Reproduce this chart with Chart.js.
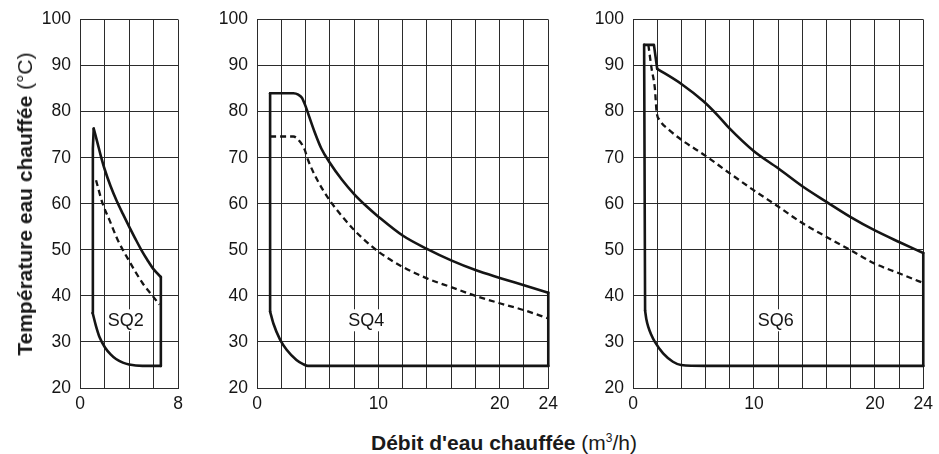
<!DOCTYPE html>
<html lang="fr">
<head>
<meta charset="utf-8">
<script src="https://cdn.jsdelivr.net/npm/chart.js@4/dist/chart.umd.min.js"></script>
<style>
  html, body { margin: 0; padding: 0; background: #fff; }
  body { width: 939px; height: 454px; position: relative; overflow: hidden;
         font-family: 'Liberation Sans', Arial, Helvetica, sans-serif; color: #1a1a1a; }
  .panel { position: absolute; top: 0; }
  #ytitle { position: absolute; left: 25px; top: 204px; transform: translate(-50%, -50%) rotate(-90deg);
            white-space: nowrap; font-size: 21px; line-height: 24px; }
  #xtitle { position: absolute; left: 504px; top: 431px; transform: translateX(-50%);
            white-space: nowrap; font-size: 21px; line-height: 24px; }
  #xtitle sup { font-size: 12px; vertical-align: 8px; line-height: 0; }
</style>
</head>
<body>
<div class="panel" style="left:0px"><canvas id="c1" width="190" height="420"></canvas></div>
<div class="panel" style="left:197px"><canvas id="c2" width="367" height="420"></canvas></div>
<div class="panel" style="left:573px"><canvas id="c3" width="366" height="420"></canvas></div>
<div id="ytitle"><b>Température eau chauffée</b> (°C)</div>
<div id="xtitle"><b>Débit d'eau chauffée</b> (m<sup>3</sup>/h)</div>
<script>
// ---- data (x = débit m³/h, y = température °C) ----
const yTicks = [20, 30, 40, 50, 60, 70, 80, 90, 100];
const xLabelsSQ2 = [0, 8];
const xLabelsSQ4 = [0, 10, 20, 24];
const xLabelsSQ6 = [0, 10, 20, 24];
const modelNames = ['SQ2', 'SQ4', 'SQ6'];
const labelAt = [[3.73, 34.7], [9.0, 34.7], [11.8, 34.7]];

const sq2Left   = [[1.03, 36.3], [1.05, 72], [1.12, 76.3]];
const sq2Top    = [[1.12, 76.3], [1.4, 73.5], [1.71, 70.3], [2.0, 67.6], [2.5, 63.8], [3.0, 60.6], [3.5, 57.8], [4.0, 55.1], [4.5, 52.5], [5.0, 50.0], [5.5, 47.8], [6.0, 45.8], [6.6, 44.1]];
const sq2Right  = [[6.6, 44.1], [6.6, 24.8]];
const sq2Bottom = [[1.03, 36.3], [1.3, 33.5], [1.6, 31.0], [2.04, 28.8], [2.5, 27.3], [2.94, 26.3], [3.5, 25.5], [4.0, 25.1], [5.1, 24.8], [6.6, 24.8]];
const sq2Dash   = [[1.31, 65.1], [1.85, 60], [2.4, 56.5], [3.07, 52.2], [4.03, 47.5], [5.1, 42.8], [5.93, 40], [6.48, 38.1]];

const sq4Left   = [[1.08, 36.6], [1.08, 84]];
const sq4Top    = [[1.08, 84], [3.0, 84], [3.4, 83.7], [3.7, 83], [4.0, 81.2], [4.25, 79.3], [4.73, 75.7], [5.3, 72], [6, 68.9], [7, 65.2], [8, 62.1], [9, 59.5], [10, 57.2], [12, 53.1], [14, 50.2], [16, 47.7], [18, 45.6], [20, 43.9], [22, 42.3], [24, 40.7]];
const sq4Right  = [[24, 40.7], [24, 24.8]];
const sq4Bottom = [[1.08, 36.6], [1.35, 34], [1.9, 30.5], [2.44, 28.3], [3.25, 26.1], [3.8, 25.2], [4.2, 24.8], [24, 24.8]];
const sq4Dash   = [[1.08, 74.6], [3.0, 74.6], [3.5, 73.6], [3.92, 71.8], [4.19, 69.6], [5, 65], [6, 60.7], [7, 57.3], [8, 54.3], [9, 51.8], [10, 49.6], [12, 46.3], [14, 43.8], [16, 41.9], [18, 40], [20, 38.4], [22, 36.9], [24, 35.1]];

const sq6Left   = [[1.0, 36.8], [0.92, 94.5]];
const sq6Cap    = [[0.92, 94.5], [1.73, 94.5], [2.0, 89.3]];
const sq6Top    = [[2.0, 89.3], [4, 86], [5.8, 82.3], [7, 79.2], [8, 76.3], [10, 71.4], [12, 67.7], [14, 63.8], [16, 60.4], [18, 57.1], [20, 54.2], [22, 51.7], [24, 49.3]];
const sq6Right  = [[24, 49.3], [24, 24.8]];
const sq6Bottom = [[1.0, 36.8], [1.1, 35], [1.27, 33.2], [1.5, 31.6], [1.81, 30], [2.49, 27.5], [3.3, 25.7], [3.97, 25.0], [6, 24.8], [24, 24.8]];
const sq6Dash   = [[1.27, 94.5], [1.54, 89.3], [1.81, 85], [1.95, 80], [2.2, 78.2], [3, 76], [4, 73.9], [6, 70.4], [8, 66.6], [10, 62.9], [12, 59.4], [14, 55.8], [16, 52.8], [18, 49.9], [20, 47.0], [22, 44.9], [24, 42.8]];

// ---- styling / layout ----
const FONT = "'Liberation Sans', Arial, Helvetica, sans-serif";
const INK = '#151515';
const GRID = '#2b2b2b';

function pts(arr) { return arr.map(p => ({ x: p[0], y: p[1] })); }
function straight(arr) {
  return { data: pts(arr), showLine: true, borderColor: INK, borderWidth: 2.6, pointRadius: 0, tension: 0, clip: false, borderCapStyle: 'round', borderJoinStyle: 'round' };
}
function curve(arr) {
  return { data: pts(arr), showLine: true, borderColor: INK, borderWidth: 2.6, pointRadius: 0, cubicInterpolationMode: 'monotone', clip: false, borderCapStyle: 'round', borderJoinStyle: 'round' };
}
function dashed(arr) {
  return { data: pts(arr), showLine: true, borderColor: INK, borderWidth: 2.3, borderDash: [6, 4], pointRadius: 0, cubicInterpolationMode: 'monotone', clip: false };
}

const labelPlugin = {
  id: 'modelLabel',
  beforeDatasetsDraw(chart, args, opts) {
    const ctx = chart.ctx;
    const x = chart.scales.x.getPixelForValue(opts.at[0]);
    const y = chart.scales.y.getPixelForValue(opts.at[1]);
    ctx.save();
    ctx.font = '18px ' + FONT;
    const w = ctx.measureText(opts.text).width;
    ctx.fillStyle = '#fff';
    ctx.fillRect(x - w / 2 - 2, y - 11, w + 4, 22);
    ctx.fillStyle = INK;
    ctx.textAlign = 'center';
    ctx.textBaseline = 'middle';
    ctx.fillText(opts.text, x, y + 1);
    ctx.restore();
  }
};

const panels = [
  { id: 'c1', xMax: 8,  xLabels: xLabelsSQ2, yWidth: 80, padRight: 12, datasets: [straight(sq2Left), curve(sq2Top), straight(sq2Right), curve(sq2Bottom), dashed(sq2Dash)] },
  { id: 'c2', xMax: 24, xLabels: xLabelsSQ4, yWidth: 60, padRight: 12, datasets: [straight(sq4Left), curve(sq4Top), straight(sq4Right), curve(sq4Bottom), dashed(sq4Dash)] },
  { id: 'c3', xMax: 24, xLabels: xLabelsSQ6, yWidth: 60, padRight: 11, datasets: [straight(sq6Left), straight(sq6Cap), curve(sq6Top), straight(sq6Right), curve(sq6Bottom), dashed(sq6Dash)] }
];

panels.forEach((p, i) => {
  new Chart(document.getElementById(p.id), {
    type: 'scatter',
    data: { datasets: p.datasets },
    plugins: [labelPlugin],
    options: {
      responsive: false,
      animation: false,
      events: [],
      layout: { padding: { top: 18, right: p.padRight, left: 0, bottom: 0 } },
      plugins: {
        legend: { display: false },
        tooltip: { enabled: false },
        modelLabel: { text: modelNames[i], at: labelAt[i] }
      },
      scales: {
        x: {
          type: 'linear', min: 0, max: p.xMax,
          grid: { color: GRID, lineWidth: 1, drawTicks: false },
          border: { color: GRID, width: 1 },
          afterFit(s) { s.height = 32; },
          ticks: {
            stepSize: 2, autoSkip: false, maxRotation: 0, padding: 6,
            color: INK, font: { family: FONT, size: 17.5 },
            callback: v => (p.xLabels.includes(v) ? String(v) : '')
          }
        },
        y: {
          type: 'linear', min: yTicks[0], max: yTicks[yTicks.length - 1],
          grid: { color: GRID, lineWidth: 1, drawTicks: false },
          border: { color: GRID, width: 1 },
          afterFit(s) { s.width = p.yWidth; },
          ticks: {
            stepSize: 10, padding: 9,
            color: INK, font: { family: FONT, size: 17.5 },
            callback: v => (yTicks.includes(v) ? String(v) : '')
          }
        }
      }
    }
  });
});
</script>
</body>
</html>
